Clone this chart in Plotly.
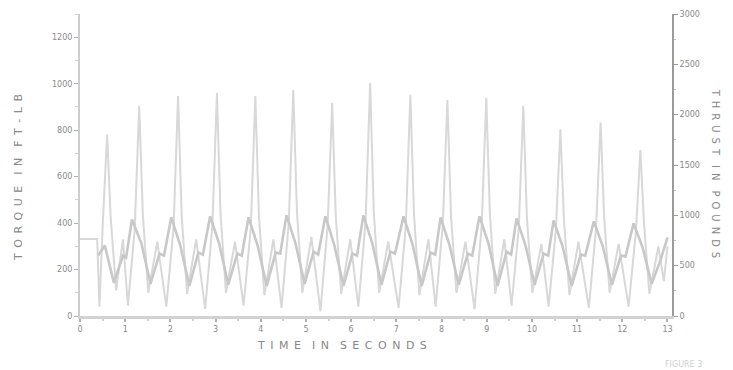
import plotly.graph_objects as go

# Torque (left axis, ft-lb)
torque_t = [0.00, 0.38, 0.43, 0.50, 0.60, 0.68, 0.80, 0.95,
            1.06, 1.21, 1.31, 1.39, 1.51, 1.71,
            1.91, 2.07, 2.17, 2.25, 2.37, 2.57,
            2.77, 2.93, 3.03, 3.11, 3.23, 3.43,
            3.62, 3.78, 3.88, 3.96, 4.08, 4.28,
            4.46, 4.62, 4.72, 4.80, 4.92, 5.12,
            5.32, 5.48, 5.58, 5.66, 5.78, 5.98,
            6.16, 6.32, 6.42, 6.50, 6.62, 6.82,
            7.05, 7.21, 7.31, 7.39, 7.51, 7.71,
            7.87, 8.03, 8.13, 8.21, 8.33, 8.53,
            8.73, 8.89, 8.99, 9.07, 9.19, 9.39,
            9.55, 9.71, 9.81, 9.89, 10.01, 10.21,
            10.37, 10.53, 10.63, 10.71, 10.83, 11.03,
            11.26, 11.42, 11.52, 11.60, 11.72, 11.92,
            12.14, 12.30, 12.40, 12.48, 12.60, 12.80, 12.92, 13.00]
torque_v = [331, 331, 40, 380, 782, 420, 110, 330,
            45, 370, 905, 440, 100, 320,
            40, 380, 947, 430, 95, 330,
            30, 390, 960, 440, 100, 320,
            45, 380, 947, 430, 90, 330,
            35, 400, 973, 450, 100, 340,
            20, 390, 918, 430, 95, 330,
            40, 410, 1003, 450, 100, 320,
            35, 390, 952, 440, 90, 330,
            40, 400, 930, 430, 100, 320,
            30, 390, 939, 440, 95, 330,
            45, 380, 905, 420, 100, 310,
            40, 370, 803, 410, 90, 320,
            35, 380, 833, 420, 100, 310,
            40, 360, 714, 400, 95, 300, 150, 300]

# Thrust (right axis, pounds)
thrust_t = [0.40, 0.55, 0.75, 0.95, 1.02, 1.15,
            1.36, 1.56, 1.76, 1.86, 2.02,
            2.22, 2.42, 2.62, 2.72, 2.88,
            3.08, 3.28, 3.48, 3.58, 3.73,
            3.93, 4.13, 4.33, 4.43, 4.57,
            4.77, 4.97, 5.17, 5.27, 5.43,
            5.63, 5.83, 6.03, 6.13, 6.27,
            6.47, 6.67, 6.87, 6.97, 7.16,
            7.36, 7.56, 7.76, 7.86, 7.98,
            8.18, 8.38, 8.58, 8.68, 8.84,
            9.04, 9.24, 9.44, 9.54, 9.66,
            9.86, 10.06, 10.26, 10.36, 10.48,
            10.68, 10.88, 11.08, 11.18, 11.37,
            11.57, 11.77, 11.97, 12.07, 12.25,
            12.45, 12.65, 12.85, 13.00]
thrust_v = [600, 700, 330, 600, 580, 960,
            720, 320, 620, 600, 980,
            700, 300, 630, 610, 990,
            720, 310, 620, 600, 980,
            700, 300, 630, 620, 1000,
            720, 320, 640, 610, 990,
            700, 300, 620, 600, 1000,
            720, 310, 640, 620, 990,
            710, 300, 630, 610, 980,
            700, 310, 620, 600, 990,
            720, 300, 640, 610, 970,
            700, 310, 620, 600, 950,
            690, 300, 610, 600, 940,
            690, 310, 600, 590, 920,
            680, 320, 560, 780]

x_ticks = list(range(0, 14))
left_ticks = [0, 200, 400, 600, 800, 1000, 1200]
right_ticks = [0, 500, 1000, 1500, 2000, 2500, 3000]

fig = go.Figure()
fig.add_trace(go.Scatter(x=thrust_t, y=thrust_v, yaxis="y2", mode="lines",
                         line=dict(color="#c8c8c8", width=2.6), showlegend=False))
fig.add_trace(go.Scatter(x=torque_t, y=torque_v, mode="lines",
                         line=dict(color="#d8d8d8", width=2), showlegend=False))

tickfont = dict(family="DejaVu Sans", size=8, color="#8a8a8a")
fig.update_layout(
    width=733, height=370,
    margin=dict(l=80, r=61, t=10, b=54),
    paper_bgcolor="white", plot_bgcolor="white",
    xaxis=dict(range=[0, 13.1], tickvals=x_ticks, showgrid=False, zeroline=False,
               showline=True, linecolor="#d2d2d2", linewidth=3,
               ticks="outside", ticklen=3, tickcolor="#b0b0b0", tickwidth=2,
               minor=dict(ticks="outside", ticklen=2, dtick=0.5, tickcolor="#d0d0d0"),
               tickfont=tickfont),
    yaxis=dict(range=[0, 1300], tickvals=left_ticks, showgrid=False, zeroline=False,
               showline=True, linecolor="#cdcdcd", linewidth=2,
               ticks="outside", ticklen=4, tickcolor="#b0b0b0",
               minor=dict(ticks="outside", ticklen=3, dtick=100, tickcolor="#d0d0d0"),
               tickfont=tickfont),
    yaxis2=dict(range=[0, 3000], tickvals=right_ticks, overlaying="y", side="right",
                showgrid=False, zeroline=False, showline=True, linecolor="#9a9a9a",
                linewidth=2, ticks="outside", ticklen=4, tickcolor="#9a9a9a",
                minor=dict(ticks="outside", ticklen=2, dtick=250, tickcolor="#c0c0c0"),
                tickfont=tickfont),
)

titlefont = dict(family="DejaVu Sans", size=11, color="#888888")
sp = "\u2002"
def spaced(words):
    return "\u2003".join(sp.join(list(w)) for w in words)

fig.add_annotation(text=spaced(["TORQUE", "IN", "FT-LB"]), xref="paper", yref="paper",
                   x=-0.105, y=0.46, xanchor="center", yanchor="middle",
                   textangle=-90, showarrow=False, font=titlefont)
fig.add_annotation(text=spaced(["THRUST", "IN", "POUNDS"]), xref="paper", yref="paper",
                   x=1.075, y=0.47, xanchor="center", yanchor="middle",
                   textangle=90, showarrow=False, font=dict(family="DejaVu Sans", size=10, color="#888888"))
fig.add_annotation(text=spaced(["TIME", "IN", "SECONDS"]), xref="x", yref="paper",
                   x=5.8, y=-0.07, xanchor="center", yanchor="top",
                   showarrow=False, font=titlefont)
fig.add_annotation(text="FIGURE 3", xref="paper", yref="paper",
                   x=1.02, y=-0.14, xanchor="center", yanchor="top",
                   showarrow=False, font=dict(family="DejaVu Sans", size=8, color="#cfcfcf"))

fig.write_html("out.html", config={"displayModeBar": False},
               post_script="document.body.style.margin='0';")
